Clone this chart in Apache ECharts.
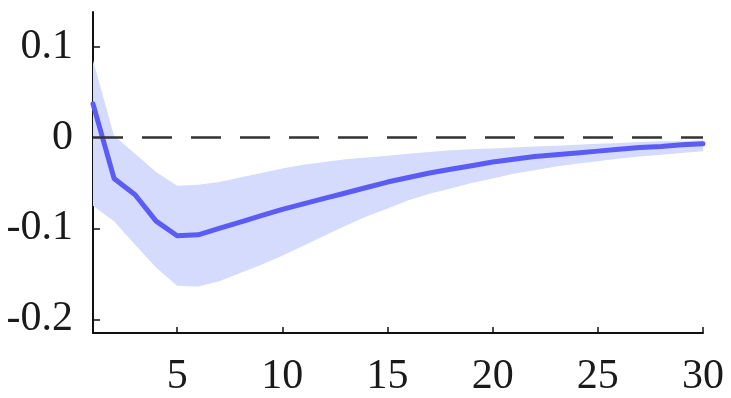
<!DOCTYPE html>
<html>
<head>
<meta charset="utf-8">
<script src="https://cdn.jsdelivr.net/npm/echarts@6/dist/echarts.min.js"></script>
<style>
  html, body { margin: 0; padding: 0; background: #fff; }
  #chart { width: 731px; height: 398px; }
</style>
</head>
<body>
<div id="chart"></div>
<script>
// Impulse response: horizon, point estimate and confidence band
const horizon = [1, 2, 3, 4, 5, 6, 7, 8, 9, 10, 11, 12, 13, 14, 15,
                 16, 17, 18, 19, 20, 21, 22, 23, 24, 25, 26, 27, 28, 29, 30];
const response = [0.037, -0.045, -0.063, -0.092, -0.108, -0.107, -0.100, -0.093, -0.086, -0.079,
                  -0.073, -0.067, -0.061, -0.055, -0.049, -0.044, -0.039, -0.035, -0.031, -0.027,
                  -0.024, -0.021, -0.019, -0.017, -0.015, -0.013, -0.011, -0.010, -0.008, -0.007];
const upperBand = [0.085, 0.002, -0.018, -0.038, -0.053, -0.052, -0.049, -0.044, -0.039, -0.034,
                   -0.030, -0.027, -0.024, -0.022, -0.020, -0.018, -0.016, -0.014, -0.013, -0.012,
                   -0.011, -0.010, -0.009, -0.008, -0.007, -0.006, -0.005, -0.004, -0.004, -0.003];
const lowerBand = [-0.075, -0.092, -0.118, -0.143, -0.163, -0.164, -0.158, -0.149, -0.140, -0.130,
                   -0.119, -0.108, -0.097, -0.087, -0.078, -0.069, -0.062, -0.056, -0.050, -0.045,
                   -0.040, -0.036, -0.032, -0.029, -0.026, -0.023, -0.021, -0.019, -0.017, -0.015];
const xTicks = [5, 10, 15, 20, 25, 30];
const yTicks = [-0.2, -0.1, 0, 0.1];
const zeroLine = [0, 0];

const chart = echarts.init(document.getElementById('chart'), null, { renderer: 'canvas' });

const labelFont = {
  fontFamily: '"Liberation Serif", "DejaVu Serif", serif',
  fontSize: 42,
  color: '#1a1a1a'
};

chart.setOption({
  animation: false,
  backgroundColor: '#ffffff',
  grid: { left: 93, right: 28, top: 12, bottom: 65 },
  xAxis: {
    type: 'value',
    min: horizon[0],
    max: horizon[horizon.length - 1],
    splitLine: { show: false },
    axisLine: { show: true, onZero: false, lineStyle: { color: '#111', width: 2 } },
    axisTick: { show: true, inside: true, length: 6, customValues: xTicks, lineStyle: { color: '#111', width: 1.5 } },
    axisLabel: Object.assign({ margin: 23, customValues: xTicks }, labelFont)
  },
  yAxis: {
    type: 'value',
    min: -0.215,
    max: 0.138,
    splitLine: { show: false },
    axisLine: { show: true, onZero: false, lineStyle: { color: '#111', width: 2 } },
    axisTick: { show: true, inside: true, length: 7, customValues: yTicks, lineStyle: { color: '#111', width: 1.5 } },
    axisLabel: Object.assign({
      margin: 20,
      customValues: yTicks,
      formatter: function (v) { return String(Math.round(v * 10) / 10); }
    }, labelFont)
  },
  series: [
    {
      // confidence band as one filled polygon
      type: 'custom',
      z: 1,
      silent: true,
      data: [0],
      renderItem: function (params, api) {
        const pts = [];
        for (let i = 0; i < horizon.length; i++) pts.push(api.coord([horizon[i], upperBand[i]]));
        for (let i = horizon.length - 1; i >= 0; i--) pts.push(api.coord([horizon[i], lowerBand[i]]));
        return {
          type: 'polygon',
          shape: { points: pts },
          style: { fill: '#d5dbfc', stroke: null }
        };
      }
    },
    {
      type: 'line',
      z: 3,
      silent: true,
      showSymbol: false,
      data: horizon.map((h, i) => [h, response[i]]),
      lineStyle: { color: '#5b5cf6', width: 5, join: 'round', cap: 'round' }
    },
    {
      // zero reference line
      type: 'line',
      z: 4,
      silent: true,
      showSymbol: false,
      data: [[horizon[0], zeroLine[0]], [horizon[horizon.length - 1], zeroLine[1]]],
      lineStyle: { color: '#333', width: 2.5, type: [30, 19] }
    }
  ]
});
</script>
</body>
</html>
